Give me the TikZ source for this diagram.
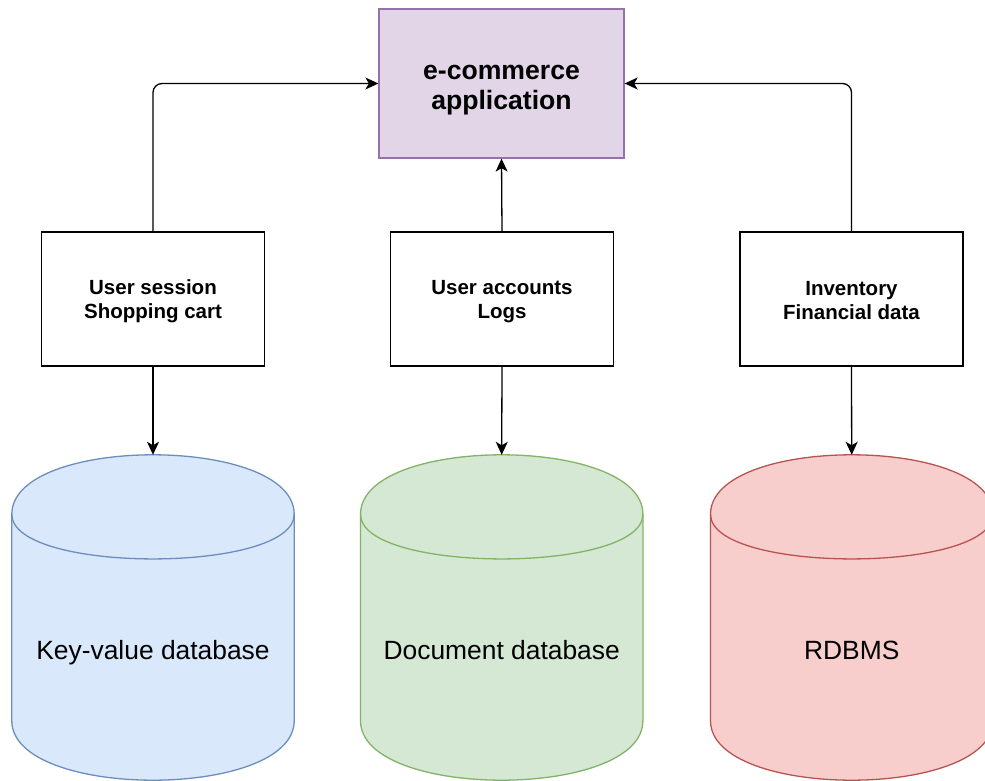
\documentclass[tikz,border=0pt]{standalone}
\usepackage{fontspec}
\setmainfont{Liberation Sans}
\usetikzlibrary{arrows.meta}
\definecolor{appfill}{HTML}{E1D5E7}
\definecolor{appline}{HTML}{9673A6}
\definecolor{kvfill}{HTML}{DAE8FC}
\definecolor{kvline}{HTML}{6C8EBF}
\definecolor{docfill}{HTML}{D5E8D4}
\definecolor{docline}{HTML}{82B366}
\definecolor{relfill}{HTML}{F8CECC}
\definecolor{relline}{HTML}{B85450}
\newcommand{\toprule}[1]{\rule{0pt}{#1}}
\newcommand{\botrule}[1]{\rule[-#1]{0pt}{#1}}
\tikzset{
  every node/.style={font=\fontsize{20.5pt}{23.5pt}\selectfont\bfseries, align=center},
  appbox/.style={draw=appline, fill=appfill, line width=1.3pt, minimum width=245pt, minimum height=149pt, inner sep=0pt,
    font=\fontsize{26.6pt}{30pt}\selectfont\bfseries},
  databox/.style={draw=black, fill=white, line width=1.3pt, minimum width=223pt, minimum height=134pt, inner sep=0pt},
  cylarea/.style={minimum width=282pt, minimum height=325pt, inner sep=0pt},
  cyltext/.style={font=\fontsize{26.4pt}{30pt}\selectfont, inner sep=0pt, text height=19pt, text depth=5.5pt},
  conn/.style={line width=1.3pt, -{Stealth[length=13pt,width=12pt,inset=3.5pt]}, rounded corners=9pt},
}
% cylinder drawing: #1 node name, #2 fill, #3 line
\newcommand{\mycyl}[3]{%
  \path[fill=#2, draw=#3, line width=1.3pt]
    ([yshift=-59.5pt]#1.north west) .. controls ([yshift=19.83pt]#1.north west) and ([yshift=19.83pt]#1.north east) .. ([yshift=-59.5pt]#1.north east)
    -- ([yshift=59.5pt]#1.south east) .. controls ([yshift=-19.83pt]#1.south east) and ([yshift=-19.83pt]#1.south west) .. ([yshift=59.5pt]#1.south west)
    -- cycle;
  \draw[#3, line width=1.3pt]
    ([yshift=-59.5pt]#1.north west) .. controls ([yshift=-119pt]#1.north west) and ([yshift=-119pt]#1.north east) .. ([yshift=-59.5pt]#1.north east);
}
\begin{document}
\begin{tikzpicture}[x=1pt, y=-1pt]
\useasboundingbox (0,0) rectangle (985,781);
\clip (0,0) rectangle (985,781);

\node[appbox] (app) at (501.5,83.5) {\toprule{28pt}e-commerce\\application\botrule{5pt}};

\node[databox] (kvdata) at (153,299) {\toprule{19pt}User session\\Shopping cart\botrule{2pt}};
\node[databox] (docdata) at (502,299) {\toprule{19pt}User accounts\\Logs\botrule{2pt}};
\node[databox] (reldata) at (851.5,299) {\toprule{19pt}Inventory\\Financial data\botrule{2pt}};

\node[cylarea] (kv) at (153,617.5) {};
\node[cylarea] (doc) at (501.7,617.5) {};
\node[cylarea] (rel) at (851.7,617.5) {};
\mycyl{kv}{kvfill}{kvline}
\mycyl{doc}{docfill}{docline}
\mycyl{rel}{relfill}{relline}
\node[cyltext] (kvlabel) at (153,653) {Key-value database};
\node[cyltext] (doclabel) at (501.7,653) {Document database};
\node[cyltext] (rellabel) at (851.7,653) {RDBMS};

\draw[conn] (kvdata.north) |- (app.west);
\draw[conn] (docdata.north) -- (app.south);
\draw[conn] (reldata.north) |- (app.east);

\draw[conn] (kvdata.south) -- (kv.north);
\draw[conn] (docdata.south) -- (doc.north);
\draw[conn] (reldata.south) -- (rel.north);
\end{tikzpicture}
\end{document}
